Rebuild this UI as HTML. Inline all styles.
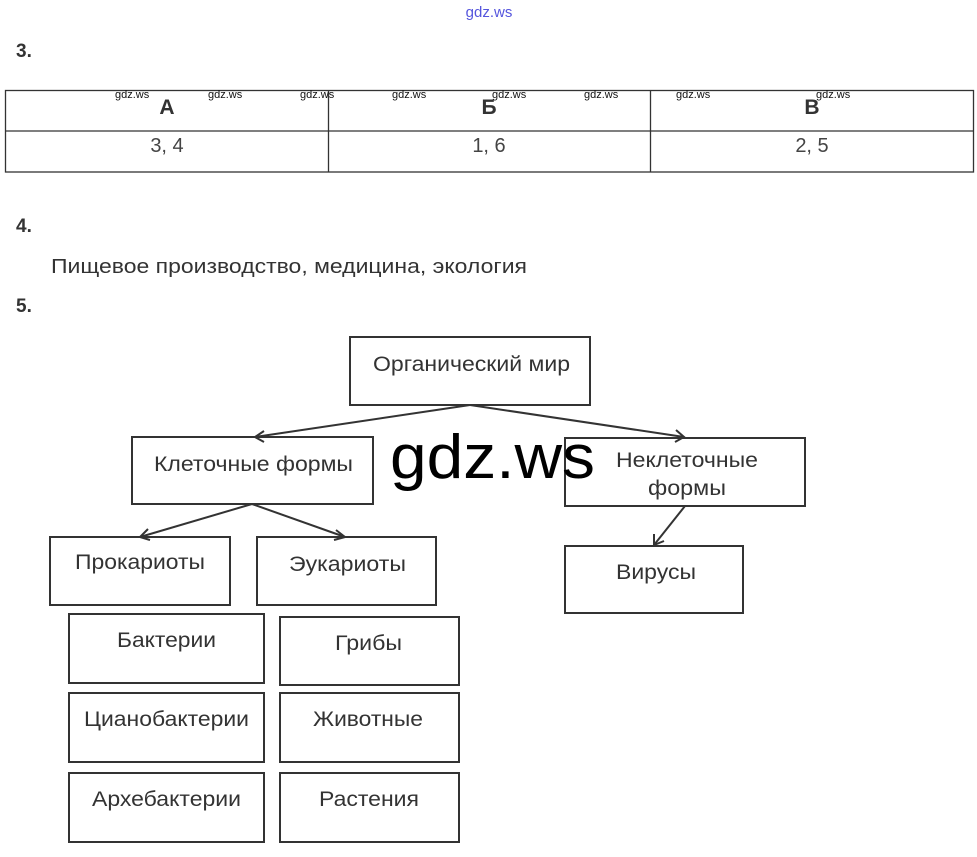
<!DOCTYPE html>
<html><head><meta charset="utf-8"><style>
html,body{margin:0;padding:0;background:#fff;}
svg{display:block;}
text{font-family:"Liberation Sans",Arial,sans-serif;}
</style></head><body>
<svg width="977" height="857" viewBox="0 0 977 857" xmlns="http://www.w3.org/2000/svg">
<text x="489" y="17" font-size="15" fill="#5555dd" text-anchor="middle">gdz.ws</text>
<text x="16" y="57" font-size="19" font-weight="bold" fill="#333">3.</text>
<g stroke="#333" stroke-width="1.3" fill="none">
<rect x="5.5" y="90.5" width="968" height="81.5"/>
<line x1="5" y1="131" x2="974" y2="131"/>
<line x1="328.5" y1="90" x2="328.5" y2="172"/>
<line x1="650.5" y1="90" x2="650.5" y2="172"/>
</g>
<g font-size="21" font-weight="bold" fill="#333" text-anchor="middle">
<text x="167" y="114">А</text><text x="489" y="114">Б</text><text x="812" y="114">В</text>
</g>
<g font-size="11" fill="#111">
<text x="115" y="98">gdz.ws</text><text x="208" y="98">gdz.ws</text><text x="300" y="98">gdz.ws</text>
<text x="392" y="98">gdz.ws</text><text x="492" y="98">gdz.ws</text><text x="584" y="98">gdz.ws</text>
<text x="676" y="98">gdz.ws</text><text x="816" y="98">gdz.ws</text>
</g>
<g font-size="20" fill="#444" text-anchor="middle">
<text x="167" y="152">3, 4</text><text x="489" y="152">1, 6</text><text x="812" y="152">2, 5</text>
</g>
<text x="16" y="232" font-size="19" font-weight="bold" fill="#333">4.</text>
<text x="51" y="273" font-size="20" fill="#333" textLength="476" lengthAdjust="spacingAndGlyphs">Пищевое производство, медицина, экология</text>
<text x="16" y="312" font-size="19" font-weight="bold" fill="#333">5.</text>
<g stroke="#333" stroke-width="2" fill="none">
<rect x="350" y="337" width="240" height="68"/>
<rect x="132" y="437" width="241" height="67"/>
<rect x="565" y="438" width="240" height="68"/>
<rect x="50" y="537" width="180" height="68"/>
<rect x="257" y="537" width="179" height="68"/>
<rect x="565" y="546" width="178" height="67"/>
<rect x="69" y="614" width="195" height="69"/>
<rect x="280" y="617" width="179" height="68"/>
<rect x="69" y="693" width="195" height="69"/>
<rect x="280" y="693" width="179" height="69"/>
<rect x="69" y="773" width="195" height="69"/>
<rect x="280" y="773" width="179" height="69"/>
</g>
<g stroke="#333" stroke-width="2" fill="none">
<line x1="470" y1="405" x2="255" y2="437"/><polyline points="264,431 255,437 264,442"/>
<line x1="470" y1="405" x2="684" y2="437"/><polyline points="676,430 684,437 675,442"/>
<line x1="252" y1="504" x2="140" y2="537"/><polyline points="148,529 140,537 150,540"/>
<line x1="252" y1="504" x2="345" y2="537"/><polyline points="336,530 345,537 334,540"/>
<line x1="685" y1="506" x2="654" y2="545"/><polyline points="654,534 654,545 664,541"/>
</g>
<g font-size="21" fill="#333" lengthAdjust="spacingAndGlyphs">
<text x="373" y="371" textLength="197" lengthAdjust="spacingAndGlyphs">Органический мир</text>
<text x="154" y="471" textLength="199" lengthAdjust="spacingAndGlyphs">Клеточные формы</text>
<text x="616" y="467" textLength="142" lengthAdjust="spacingAndGlyphs">Неклеточные</text>
<text x="648" y="495" textLength="78" lengthAdjust="spacingAndGlyphs">формы</text>
<text x="75" y="569" textLength="130" lengthAdjust="spacingAndGlyphs">Прокариоты</text>
<text x="289" y="571" textLength="117" lengthAdjust="spacingAndGlyphs">Эукариоты</text>
<text x="616" y="579" textLength="80" lengthAdjust="spacingAndGlyphs">Вирусы</text>
<text x="117" y="647" textLength="99" lengthAdjust="spacingAndGlyphs">Бактерии</text>
<text x="335" y="650" textLength="67" lengthAdjust="spacingAndGlyphs">Грибы</text>
<text x="84" y="726" textLength="165" lengthAdjust="spacingAndGlyphs">Цианобактерии</text>
<text x="313" y="726" textLength="110" lengthAdjust="spacingAndGlyphs">Животные</text>
<text x="92" y="806" textLength="149" lengthAdjust="spacingAndGlyphs">Архебактерии</text>
<text x="319" y="806" textLength="100" lengthAdjust="spacingAndGlyphs">Растения</text>
</g>
<text x="390" y="478" font-size="62" fill="#000" textLength="205" lengthAdjust="spacingAndGlyphs" font-family="DejaVu Sans, sans-serif">gdz.ws</text>
</svg>
</body></html>
